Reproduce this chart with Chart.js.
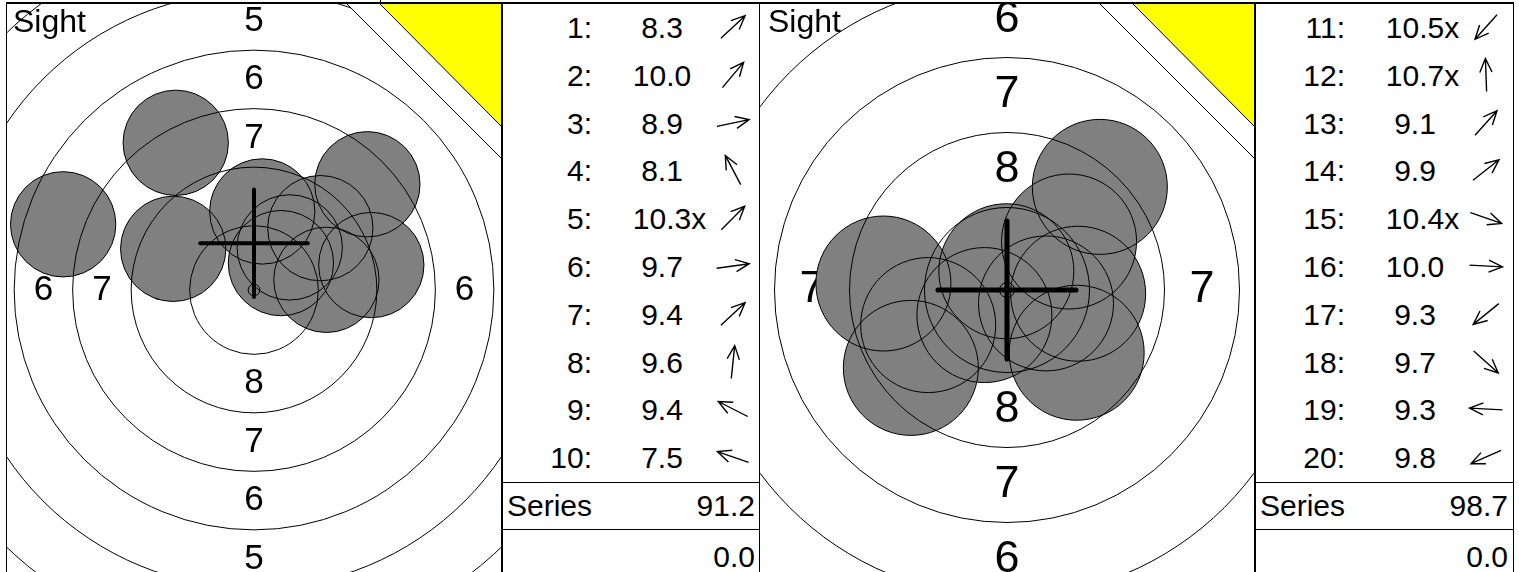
<!DOCTYPE html>
<html>
<head>
<meta charset="utf-8">
<title>Series 1 / Series 2</title>
<script src="https://cdn.jsdelivr.net/npm/chart.js@4.4.1/dist/chart.umd.min.js"></script>
<style>
    body { margin: 0; background: #fff; font-family: 'Liberation Sans', Arial, sans-serif; color: #000; }
    #sheet { position: relative; width: 1519px; height: 572px; overflow: hidden; }
    .line { position: absolute; background: #000; }
    .panel { position: absolute; top: 4px; }
    .panel canvas { display: block; }
    .sight { position: absolute; top: 4px; font-size: 32px; line-height: 34px; }
    .list { position: absolute; top: 4px; width: 257px; height: 568px; font-size: 30px; }
    .row { position: absolute; left: 0; width: 257px; height: 47.8px; line-height: 47.8px; white-space: nowrap; }
    .num { position: absolute; left: 0; width: 90px; text-align: right; }
    .score { position: absolute; left: 0; width: 320px; text-align: center; }
    .score span { position: relative; }
    .score i { position: absolute; left: 100%; font-style: normal; }
    .dir { position: absolute; left: 211px; top: 3px; }
    .total { position: absolute; left: 0; width: 257px; line-height: 47px; }
    .total .lbl { position: absolute; left: 5px; }
    .total .val { position: absolute; right: 4px; }
</style>
</head>
<body>
<div id="sheet">
    <div class="line" style="left:6px;top:2px;width:1508px;height:2px"></div>
    <div class="line" style="left:380px;top:0;width:1px;height:3px"></div>
    <div class="line" style="left:6px;top:3px;width:1px;height:569px"></div>
    <div class="line" style="left:501px;top:3px;width:1px;height:569px"></div>
    <div class="line" style="left:502px;top:3px;width:1px;height:569px"></div>
    <div class="line" style="left:759px;top:3px;width:1px;height:569px"></div>
    <div class="line" style="left:1254px;top:3px;width:1px;height:569px"></div>
    <div class="line" style="left:1255px;top:3px;width:1px;height:569px"></div>
    <div class="line" style="left:1513px;top:3px;width:1px;height:569px"></div>
    <div class="line" style="left:502px;top:482px;width:258px;height:1px"></div>
    <div class="line" style="left:502px;top:529px;width:258px;height:1px"></div>
    <div class="line" style="left:1255px;top:482px;width:259px;height:1px"></div>
    <div class="line" style="left:1255px;top:529px;width:259px;height:1px"></div>

    <div class="panel" style="left:7px"><canvas id="target1" width="494" height="568"></canvas></div>
    <div class="sight" style="left:13px">Sight</div>
    <div class="list" id="list1" style="left:502px"></div>

    <div class="panel" style="left:760px"><canvas id="target2" width="494" height="568"></canvas></div>
    <div class="sight" style="left:768px">Sight</div>
    <div class="list" id="list2" style="left:1255px"></div>
</div>

<script>
// series 1
const shots1 = [1, 2, 3, 4, 5, 6, 7, 8, 9, 10];
const scores1 = [8.3, 10.0, 8.9, 8.1, 10.3, 9.7, 9.4, 9.6, 9.4, 7.5];
const angles1 = [43, 50, 12, 118, 45, 8, 43, 84, 153, 161]; // direction of the hit, degrees from 3 o'clock
const inner1 = [false, false, false, false, true, false, false, false, false, false];
const sight1 = [0, 2.0]; // mm
const penalty1 = 0.0;

// series 2
const shots2 = [11, 12, 13, 14, 15, 16, 17, 18, 19, 20];
const scores2 = [10.5, 10.7, 9.1, 9.9, 10.4, 10.0, 9.3, 9.7, 9.3, 9.8];
const angles2 = [228, 92, 48, 38, -19, -3, 219, -42, 177, 204];
const inner2 = [true, true, false, false, true, false, false, false, false, false];
const sight2 = [0, 0];
const penalty2 = 0.0;

// rings of the air rifle target
const ringValues = [1, 2, 3, 4, 5, 6, 7, 8, 9, 10];
const ringNumbers = [1, 2, 3, 4, 5, 6, 7, 8];

const RING_STEP = 2.5;   // mm between rings
const TEN_RADIUS = 0.25; // mm
const PELLET = 4.5;      // mm

function ringRadius(n) {
    return TEN_RADIUS + (10 - n) * RING_STEP;
}

// distance of the pellet centre for a decimal score (middle of its 0.1 band)
function shotPoints(scores, angles) {
    return scores.map((s, i) => {
        const d = (10.95 - s) * RING_STEP;
        const a = angles[i] * Math.PI / 180;
        return { x: d * Math.cos(a), y: d * Math.sin(a) };
    });
}

const targetFace = {
    id: 'targetFace',
    beforeDatasetsDraw(chart) {
        const { ctx, chartArea, scales: { x, y } } = chart;
        const cx = x.getPixelForValue(0);
        const cy = y.getPixelForValue(0);
        const unit = x.getPixelForValue(1) - cx;
        ctx.save();
        ctx.beginPath();
        ctx.rect(chartArea.left, chartArea.top, chartArea.width, chartArea.height);
        ctx.clip();
        ctx.fillStyle = '#000';
        ctx.font = (1.5 * unit).toFixed(1) + "px 'Liberation Sans', Arial, sans-serif";
        ctx.textAlign = 'center';
        ctx.textBaseline = 'middle';
        ringNumbers.forEach(n => {
            const r = (ringRadius(n) - RING_STEP / 2) * unit;
            const t = String(n);
            ctx.fillText(t, cx, cy - r);
            ctx.fillText(t, cx, cy + r);
            ctx.fillText(t, cx - r, cy);
            ctx.fillText(t, cx + r, cy);
        });
        ctx.restore();
    },
    afterDatasetsDraw(chart, args, opts) {
        const { ctx, chartArea, scales: { x, y } } = chart;
        const cx = x.getPixelForValue(0);
        const cy = y.getPixelForValue(0);
        const unit = x.getPixelForValue(1) - cx;
        ctx.save();
        ctx.beginPath();
        ctx.rect(chartArea.left, chartArea.top, chartArea.width, chartArea.height);
        ctx.clip();

        // ring lines
        ctx.strokeStyle = '#000';
        ctx.lineWidth = 1;
        ringValues.forEach(n => {
            ctx.beginPath();
            ctx.arc(cx, cy, ringRadius(n) * unit, 0, Math.PI * 2);
            ctx.stroke();
        });

        // sight cross
        const sx = x.getPixelForValue(opts.sight[0]);
        const sy = y.getPixelForValue(opts.sight[1]);
        const arm = 2.3 * unit;
        ctx.lineWidth = 0.17 * unit;
        ctx.lineCap = 'round';
        ctx.beginPath();
        ctx.moveTo(sx - arm, sy);
        ctx.lineTo(sx + arm, sy);
        ctx.moveTo(sx, sy - arm);
        ctx.lineTo(sx, sy + arm);
        ctx.stroke();

        // corner marker
        const { right, top } = chartArea;
        ctx.lineWidth = 1;
        ctx.lineCap = 'butt';
        ctx.fillStyle = '#fff';
        ctx.beginPath();
        ctx.moveTo(right - 154, top);
        ctx.lineTo(right, top);
        ctx.lineTo(right, top + 154);
        ctx.closePath();
        ctx.fill();
        ctx.beginPath();
        ctx.moveTo(right - 154, top);
        ctx.lineTo(right, top + 154);
        ctx.stroke();
        ctx.fillStyle = '#ffff00';
        ctx.beginPath();
        ctx.moveTo(right - 121, top);
        ctx.lineTo(right, top);
        ctx.lineTo(right, top + 122);
        ctx.closePath();
        ctx.fill();
        ctx.beginPath();
        ctx.moveTo(right - 121, top);
        ctx.lineTo(right, top + 122);
        ctx.stroke();
        ctx.restore();
    }
};

function pelletRadius(ctx) {
    const sc = ctx.chart.scales.x;
    return (sc.getPixelForValue(PELLET / 2) - sc.getPixelForValue(0));
}

function buildTarget(id, scores, angles, sight, pxPerMm) {
    const canvas = document.getElementById(id);
    const w = canvas.width, h = canvas.height;
    const centreY = 286;
    return new Chart(canvas, {
        type: 'scatter',
        data: {
            datasets: [{
                // pellet holes; higher order is drawn first, so outlines land on top of every fill
                order: 2,
                data: shotPoints(scores, angles),
                pointRadius: pelletRadius,
                pointBackgroundColor: '#808080',
                pointBorderWidth: 0,
                pointBorderColor: 'rgba(0,0,0,0)'
            }, {
                order: 1,
                data: shotPoints(scores, angles),
                pointRadius: pelletRadius,
                pointBackgroundColor: 'rgba(0,0,0,0)',
                pointBorderColor: '#000000',
                pointBorderWidth: 1
            }]
        },
        options: {
            responsive: false,
            animation: false,
            events: [],
            layout: { padding: 0 },
            scales: {
                x: { type: 'linear', display: false, min: -w / 2 / pxPerMm, max: w / 2 / pxPerMm },
                y: { type: 'linear', display: false, min: -(h - centreY) / pxPerMm, max: centreY / pxPerMm }
            },
            plugins: {
                legend: { display: false },
                tooltip: { enabled: false },
                targetFace: { sight: sight }
            }
        },
        plugins: [targetFace]
    });
}

function arrowSvg(deg) {
    const a = deg * Math.PI / 180;
    const dx = Math.cos(a), dy = -Math.sin(a);
    const c = 20, L = 16.5, head = 15, spread = 24 * Math.PI / 180;
    const x1 = c - dx * L, y1 = c - dy * L, x2 = c + dx * L, y2 = c + dy * L;
    const back = Math.atan2(-dy, -dx);
    const hx1 = x2 + head * Math.cos(back + spread), hy1 = y2 + head * Math.sin(back + spread);
    const hx2 = x2 + head * Math.cos(back - spread), hy2 = y2 + head * Math.sin(back - spread);
    return '<svg width="40" height="40" viewBox="0 0 40 40"><path d="M' + x1.toFixed(1) + ' ' + y1.toFixed(1) +
        ' L' + x2.toFixed(1) + ' ' + y2.toFixed(1) + ' M' + hx1.toFixed(1) + ' ' + hy1.toFixed(1) +
        ' L' + x2.toFixed(1) + ' ' + y2.toFixed(1) + ' L' + hx2.toFixed(1) + ' ' + hy2.toFixed(1) +
        '" fill="none" stroke="#000" stroke-width="1.4"/></svg>';
}

function buildList(id, shots, scores, angles, inner, penalty) {
    const box = document.getElementById(id);
    let html = '';
    shots.forEach((n, i) => {
        html += '<div class="row" style="top:' + (i * 47.8).toFixed(1) + 'px">' +
            '<div class="num">' + n + ':</div>' +
            '<div class="score"><span>' + scores[i].toFixed(1) + (inner[i] ? '<i>x</i>' : '') + '</span></div>' +
            '<div class="dir">' + arrowSvg(angles[i]) + '</div></div>';
    });
    const total = Math.round(scores.reduce((a, b) => a + b, 0) * 10) / 10;
    html += '<div class="total" style="top:478px"><span class="lbl">Series</span><span class="val">' + total.toFixed(1) + '</span></div>';
    html += '<div class="total" style="top:525px;line-height:56px"><span class="val">' + penalty.toFixed(1) + '</span></div>';
    box.innerHTML = html;
}

buildTarget('target1', scores1, angles1, sight1, 23.4);
buildTarget('target2', scores2, angles2, sight2, 30);
buildList('list1', shots1, scores1, angles1, inner1, penalty1);
buildList('list2', shots2, scores2, angles2, inner2, penalty2);
</script>
</body>
</html>
